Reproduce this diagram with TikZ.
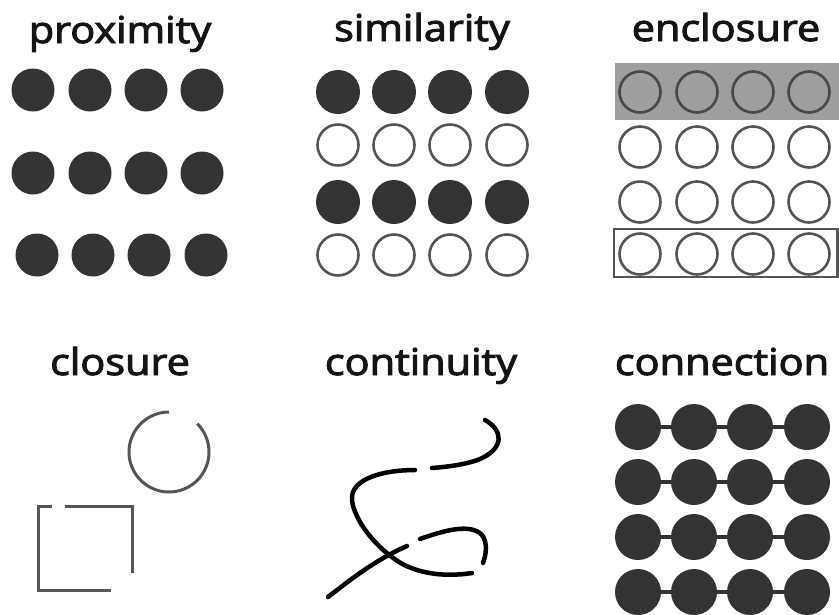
\documentclass[tikz,border=0pt]{standalone}
\usepackage{fontspec}
\setmainfont{Open Sans}
\newfontfamily\titlefont{Open Sans}[FakeBold=2.6]
\begin{document}
\begin{tikzpicture}[x=1pt,y=-1pt,
  title/.style={anchor=base,font=\titlefont\fontsize{37}{40}\selectfont,text=black!92,inner sep=0pt,xscale=1.12},
  dot/.style={circle,inner sep=0pt,minimum size=#1,fill=dotc},
  ring/.style={circle,inner sep=0pt,minimum size=#1,draw=ringc,line width=2.6pt,fill=white},
  gring/.style={circle,inner sep=0pt,minimum size=#1,draw=ringc!85!black,line width=2.6pt,fill=greyc},
  link/.style={draw=dotc,line width=4pt},
  stroke/.style={draw=black,line width=4.5pt,line cap=round},
  cstroke/.style={draw=ringc,line width=3pt}
]
\definecolor{dotc}{HTML}{333333}
\definecolor{ringc}{HTML}{555555}
\definecolor{greyc}{HTML}{9E9E9E}
\useasboundingbox (0,0) rectangle (839,614);
% titles
\node[title] (tprox) at (120,43) {proximity};
\node[title] (tsim) at (422,41) {similarity};
\node[title] (tenc) at (726,41) {enclosure};
\node[title] (tclo) at (120,375) {closure};
\node[title] (tcon) at (421,375) {continuity};
\node[title] (tconn) at (722,375) {connection};
% proximity
\foreach \x [count=\i] in {33,90,146,202}{
  \node[dot=43pt] (p1\i) at (\x,90) {};
  \node[dot=43pt] (p2\i) at (\x,173) {};
}
\foreach \x [count=\i] in {37,93,149,206}{
  \node[dot=43pt] (p3\i) at (\x,255) {};
}
% similarity
\foreach \x [count=\i] in {338,394,450,507}{
  \node[dot=44pt] (s1\i) at (\x,92) {};
  \node[ring=41pt] (s2\i) at (\x,145) {};
  \node[dot=44pt] (s3\i) at (\x,202) {};
  \node[ring=41pt] (s4\i) at (\x,255) {};
}
% enclosure
\fill[greyc] (615,63) rectangle (839,120);
\foreach \x [count=\i] in {640,697,753,809}{
  \node[gring=41pt] (e1\i) at (\x,92) {};
  \node[ring=41pt] (e2\i) at (\x,147) {};
  \node[ring=41pt] (e3\i) at (\x,202) {};
  \node[ring=41pt] (e4\i) at (\x,254) {};
}
\draw[ringc,line width=2.6pt] (614,229) rectangle (837.5,277);
% closure
\draw[cstroke] (169,412) arc[start angle=-90,end angle=-405,radius=40];
\draw[cstroke] (52,506) -- (38,506) -- (38,590) -- (111,590);
\draw[cstroke] (65,506) -- (132,506) -- (132,573);
% continuity
\draw[stroke] (485,420) .. controls (503,430) and (505,448) .. (480,459) .. controls (465,465) and (445,467) .. (432,468);
\draw[stroke] (415,470) .. controls (385,470) and (350,478) .. (352,500) .. controls (354,520) and (375,545) .. (392,557) .. controls (410,572) and (440,578) .. (472,573);
\draw[stroke] (328,597) .. controls (350,580) and (375,560) .. (407,546);
\draw[stroke] (420,539) .. controls (440,532) and (470,522) .. (482,535) .. controls (488,543) and (486,555) .. (483,563);
% connection
\foreach \y [count=\j] in {427,482,537,592}{
  \foreach \x [count=\i] in {638,694,750,807}{
    \node[dot=46pt] (k\j\i) at (\x,\y) {};
  }
  \draw[link] (k\j1) -- (k\j2);
  \draw[link] (k\j2) -- (k\j3);
  \draw[link] (k\j3) -- (k\j4);
}
\end{tikzpicture}
\end{document}
